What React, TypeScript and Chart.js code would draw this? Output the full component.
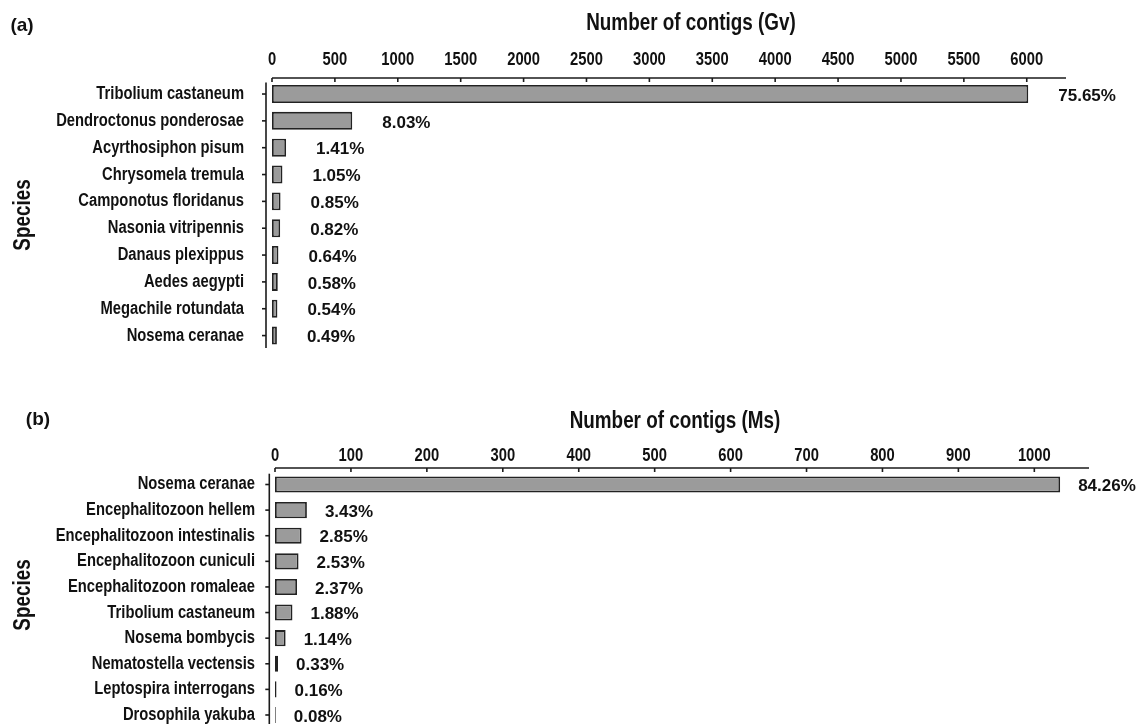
import React, { useEffect, useRef } from 'react';
import { Chart, registerables } from 'chart.js';

Chart.register(...registerables);

// ---------- data ----------
const speciesA = [
  'Tribolium castaneum',
  'Dendroctonus ponderosae',
  'Acyrthosiphon pisum',
  'Chrysomela tremula',
  'Camponotus floridanus',
  'Nasonia vitripennis',
  'Danaus plexippus',
  'Aedes aegypti',
  'Megachile rotundata',
  'Nosema ceranae',
];
const contigsA = [6012, 638, 112, 83, 68, 65, 51, 46, 43, 39];
const percentA = ['75.65%', '8.03%', '1.41%', '1.05%', '0.85%', '0.82%', '0.64%', '0.58%', '0.54%', '0.49%'];
const ticksA = [0, 500, 1000, 1500, 2000, 2500, 3000, 3500, 4000, 4500, 5000, 5500, 6000];
const axisMaxA = 6312;

const speciesB = [
  'Nosema ceranae',
  'Encephalitozoon hellem',
  'Encephalitozoon intestinalis',
  'Encephalitozoon cuniculi',
  'Encephalitozoon romaleae',
  'Tribolium castaneum',
  'Nosema bombycis',
  'Nematostella vectensis',
  'Leptospira interrogans',
  'Drosophila yakuba',
];
const contigsB = [1034, 42, 35, 31, 29, 23, 14, 4, 2, 1];
const percentB = ['84.26%', '3.43%', '2.85%', '2.53%', '2.37%', '1.88%', '1.14%', '0.33%', '0.16%', '0.08%'];
const ticksB = [0, 100, 200, 300, 400, 500, 600, 700, 800, 900, 1000];
const axisMaxB = 1072;

// ---------- style ----------
const SANS = "'Liberation Sans', Arial, sans-serif";
const NARROW_SCALE = 0.82;
const W = 1139;

type Panel = {
  top: number;
  height: number;
  labels: string[];
  values: number[];
  pcts: string[];
  ticks: number[];
  max: number;
  tag: string;
  title: string;
  chartLeft: number;
  chartRight: number;
  chartTop: number;
  chartBottom: number;
  tickLabelY: number;
  catPad: number;
  barPct: number;
  axisGap: number;
  yAxisGap: number;
  pctDx: number;
  pctDy: number;
  tagX: number;
  tagY: number;
  titleX: number;
  titleY: number;
  speciesX: number;
  speciesY: number;
};

const panelA: Panel = {
  top: 0,
  height: 362,
  labels: speciesA,
  values: contigsA,
  pcts: percentA,
  ticks: ticksA,
  max: axisMaxA,
  tag: '(a)',
  title: 'Number of contigs (Gv)',
  chartLeft: 272,
  chartRight: 1066,
  chartTop: 80.6,
  chartBottom: 349,
  tickLabelY: 60,
  catPad: 28,
  barPct: 0.67,
  axisGap: 2.6,
  yAxisGap: 6,
  pctDx: 30,
  pctDy: 2,
  tagX: 22,
  tagY: 26,
  titleX: 691,
  titleY: 24,
  speciesX: 24,
  speciesY: 215,
};

const panelB: Panel = {
  top: 380,
  height: 350,
  labels: speciesB,
  values: contigsB,
  pcts: percentB,
  ticks: ticksB,
  max: axisMaxB,
  tag: '(b)',
  title: 'Number of contigs (Ms)',
  chartLeft: 275,
  chartRight: 1089,
  chartTop: 91.7,
  chartBottom: 347.8,
  tickLabelY: 76,
  catPad: 20,
  barPct: 0.63,
  axisGap: 3.7,
  yAxisGap: 5.7,
  pctDx: 18,
  pctDy: 2,
  tagX: 38,
  tagY: 40,
  titleX: 675,
  titleY: 42,
  speciesX: 24,
  speciesY: 215,
};

function narrowText(
  ctx: CanvasRenderingContext2D,
  text: string,
  x: number,
  y: number,
  size: number,
  align: CanvasTextAlign,
) {
  ctx.save();
  ctx.translate(x, y);
  ctx.scale(NARROW_SCALE, 1);
  ctx.font = `bold ${size}px ${SANS}`;
  ctx.textAlign = align;
  ctx.textBaseline = 'middle';
  ctx.fillText(text, 0, 0);
  ctx.restore();
}

function makeDecor(p: Panel) {
  return {
    id: 'decor',
    afterDraw(chart: any) {
      const ctx = chart.ctx as CanvasRenderingContext2D;
      const area = chart.chartArea;
      const xs = chart.scales.x;
      const ys = chart.scales.y;
      ctx.save();
      ctx.strokeStyle = '#1a1a1a';
      ctx.fillStyle = '#111';
      ctx.lineWidth = 1.6;

      // x axis line, tick marks and tick labels
      const axisY = area.top - p.axisGap;
      const x0 = xs.getPixelForValue(0);
      ctx.beginPath();
      ctx.moveTo(x0, axisY);
      ctx.lineTo(area.right, axisY);
      ctx.stroke();
      xs.ticks.forEach((t: any) => {
        const px = xs.getPixelForValue(t.value);
        ctx.beginPath();
        ctx.moveTo(px, axisY);
        ctx.lineTo(px, axisY + 4);
        ctx.stroke();
        narrowText(ctx, String(t.value), px, p.tickLabelY, 18, 'center');
      });

      // y axis line, tick marks and category labels
      const yAxisX = area.left - p.yAxisGap;
      ctx.beginPath();
      ctx.moveTo(yAxisX, area.top + 2);
      ctx.lineTo(yAxisX, area.bottom - 1);
      ctx.stroke();
      p.labels.forEach((lab, i) => {
        const py = ys.getPixelForValue(i);
        ctx.beginPath();
        ctx.moveTo(yAxisX - 4, py);
        ctx.lineTo(yAxisX, py);
        ctx.stroke();
        narrowText(ctx, lab, area.left - p.catPad, py, 18, 'right');
      });

      // percentage labels
      ctx.font = `bold 17px ${SANS}`;
      ctx.textAlign = 'left';
      ctx.textBaseline = 'middle';
      const meta = chart.getDatasetMeta(0);
      meta.data.forEach((el: any, i: number) => {
        ctx.fillText(p.pcts[i], el.x + p.pctDx, el.y + p.pctDy);
      });

      // panel tag
      ctx.font = `bold 19px ${SANS}`;
      ctx.textAlign = 'center';
      ctx.fillText(p.tag, p.tagX, p.tagY);

      // axis title
      narrowText(ctx, p.title, p.titleX, p.titleY, 23, 'center');

      // Species
      ctx.translate(p.speciesX, p.speciesY);
      ctx.rotate(-Math.PI / 2);
      narrowText(ctx, 'Species', 0, 0, 23, 'center');
      ctx.restore();
    },
  };
}

function BarPanel({ p }: { p: Panel }) {
  const ref = useRef<HTMLCanvasElement | null>(null);
  useEffect(() => {
    if (!ref.current) return;
    const chart = new Chart(ref.current, {
      type: 'bar',
      data: {
        labels: p.labels,
        datasets: [
          {
            data: p.values,
            backgroundColor: '#9b9b9b',
            borderColor: '#222222',
            borderWidth: 1.8,
            borderSkipped: false,
            barPercentage: p.barPct,
            categoryPercentage: 1,
          },
        ],
      },
      options: {
        indexAxis: 'y',
        responsive: false,
        maintainAspectRatio: false,
        animation: false,
        layout: {
          padding: { left: 0, top: 0, right: W - p.chartRight, bottom: p.height - p.chartBottom },
        },
        plugins: {
          legend: { display: false },
          tooltip: { enabled: false },
          title: { display: false },
        },
        scales: {
          x: {
            type: 'linear',
            position: 'top',
            min: 0,
            max: p.max,
            grid: { display: false, drawTicks: false },
            border: { display: false },
            ticks: { display: false, padding: 0 },
            afterBuildTicks: (s: any) => {
              s.ticks = p.ticks.map((v) => ({ value: v }));
            },
            afterFit: (s: any) => {
              s.height = p.chartTop;
            },
          },
          y: {
            grid: { display: false, drawTicks: false },
            border: { display: false },
            ticks: { display: false, padding: 0 },
            afterFit: (s: any) => {
              s.width = p.chartLeft;
            },
          },
        },
      } as any,
      plugins: [makeDecor(p)],
    });
    return () => chart.destroy();
  }, [p]);
  return (
    <canvas
      ref={ref}
      width={W}
      height={p.height}
      style={{ position: 'absolute', left: 0, top: p.top, width: W, height: p.height }}
    />
  );
}

export default function App() {
  return (
    <div
      style={{
        position: 'fixed',
        left: 0,
        top: 0,
        width: W,
        height: 724,
        overflow: 'hidden',
        background: '#ffffff',
      }}
    >
      <BarPanel p={panelA} />
      <BarPanel p={panelB} />
    </div>
  );
}
